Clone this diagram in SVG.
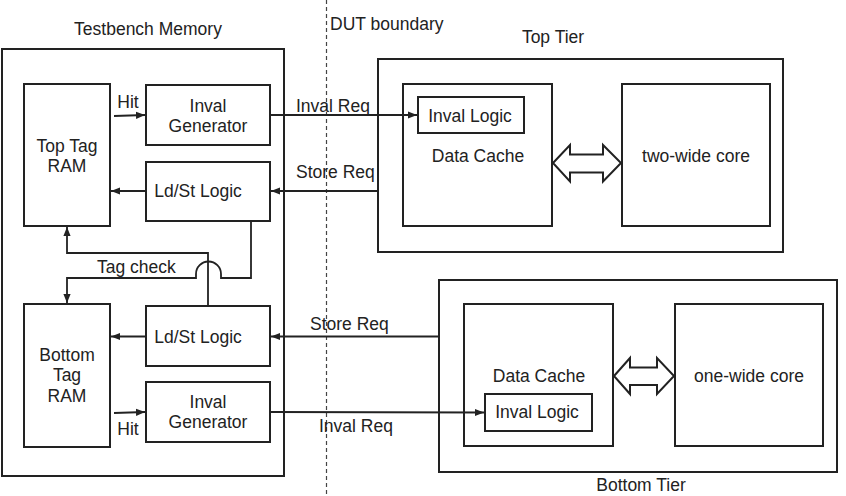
<svg xmlns="http://www.w3.org/2000/svg" width="846" height="496" viewBox="0 0 846 496">
<defs>
<style>
.box{fill:none;stroke:#222;stroke-width:2}
.ln{fill:none;stroke:#222;stroke-width:1.8}
.dash{fill:none;stroke:#444;stroke-width:1.2;stroke-dasharray:4 3}
text{font-family:"Liberation Sans",Arial,sans-serif;font-size:17.5px;fill:#222}
.c{text-anchor:middle}
.dbl{fill:#fff;stroke:#222;stroke-width:2;stroke-linejoin:miter}
</style>
<marker id="ah" viewBox="0 0 10 10" refX="10" refY="5" markerWidth="9" markerHeight="9" markerUnits="userSpaceOnUse" orient="auto">
<path d="M0,1 L10,5 L0,9 Z" fill="#222"/>
</marker>
</defs>
<rect width="846" height="496" fill="#fff"/>
<line class="dash" x1="326.5" y1="0" x2="326.5" y2="496"/>
<text x="148" y="35" class="c">Testbench Memory</text>
<text x="330" y="30">DUT boundary</text>
<text x="553" y="43" class="c">Top Tier</text>
<text x="641" y="491" class="c">Bottom Tier</text>
<g id="testbench"><rect class="box" x="2" y="49" width="282" height="427"/></g>
<g id="top-tag-ram"><rect class="box" x="24" y="84" width="86" height="142"/><text x="67" y="152" class="c">Top Tag</text><text x="67" y="172" class="c">RAM</text></g>
<g id="top-inval-gen"><rect class="box" x="146" y="85" width="124" height="60"/><text x="208" y="112" class="c">Inval</text><text x="208" y="132" class="c">Generator</text></g>
<g id="top-ldst"><rect class="box" x="146" y="162" width="124" height="59"/><text x="198" y="197" class="c">Ld/St Logic</text></g>
<g id="bottom-tag-ram"><rect class="box" x="24" y="304" width="86" height="143"/><text x="67" y="361" class="c">Bottom</text><text x="67" y="381" class="c">Tag</text><text x="67" y="402" class="c">RAM</text></g>
<g id="bottom-ldst"><rect class="box" x="146" y="306" width="124" height="60"/><text x="198" y="343" class="c">Ld/St Logic</text></g>
<g id="bottom-inval-gen"><rect class="box" x="146" y="382" width="124" height="60"/><text x="208" y="408" class="c">Inval</text><text x="208" y="428" class="c">Generator</text></g>
<g id="top-tier"><rect class="box" x="378" y="59" width="405" height="193"/></g>
<g id="top-data-cache"><rect class="box" x="403" y="84" width="149" height="142"/><text x="478" y="162" class="c">Data Cache</text></g>
<g id="top-inval-logic"><rect class="box" x="418" y="97" width="106" height="36"/><text x="470" y="122" class="c">Inval Logic</text></g>
<g id="two-wide-core"><rect class="box" x="622" y="84" width="148" height="142"/><text x="696" y="162" class="c">two-wide core</text></g>
<g id="bottom-tier"><rect class="box" x="439" y="280" width="398" height="192"/></g>
<g id="bottom-data-cache"><rect class="box" x="464" y="304" width="149" height="142"/><text x="539" y="382" class="c">Data Cache</text></g>
<g id="bottom-inval-logic"><rect class="box" x="485" y="394" width="107" height="37"/><text x="537" y="418" class="c">Inval Logic</text></g>
<g id="one-wide-core"><rect class="box" x="675" y="304" width="148" height="142"/><text x="749" y="382" class="c">one-wide core</text></g>
<g id="connectors">
<line class="ln" x1="114" y1="116" x2="145" y2="115" marker-end="url(#ah)"/>
<text x="128" y="108" class="c">Hit</text>
<line class="ln" x1="270" y1="115" x2="417" y2="115" marker-end="url(#ah)"/>
<text x="296" y="112">Inval Req</text>
<line class="ln" x1="379" y1="191" x2="271" y2="191" marker-end="url(#ah)"/>
<text x="296" y="178">Store Req</text>
<line class="ln" x1="146" y1="191" x2="111" y2="191" marker-end="url(#ah)"/>
<path class="ln" d="M208,306 V253 H67 V227" marker-end="url(#ah)"/>
<path class="ln" d="M251,221 V278 H221 V274 A12.5,12.5 0 0 0 196,274 V278 H67 V303" marker-end="url(#ah)"/>
<text x="97" y="273">Tag check</text>
<line class="ln" x1="439" y1="336.5" x2="271" y2="336.5" marker-end="url(#ah)"/>
<text x="310" y="330">Store Req</text>
<line class="ln" x1="146" y1="336.5" x2="111" y2="336.5" marker-end="url(#ah)"/>
<line class="ln" x1="114" y1="413" x2="145" y2="412" marker-end="url(#ah)"/>
<text x="128" y="435" class="c">Hit</text>
<line class="ln" x1="270" y1="412" x2="484" y2="412.5" marker-end="url(#ah)"/>
<text x="319" y="432">Inval Req</text>
<path class="dbl" d="M553,163 L570,145 L570,154.5 L603,154.5 L603,145 L621,163 L603,181.5 L603,172.5 L570,172.5 L570,181.5 Z"/>
<path class="dbl" d="M614,376 L630,358 L630,367.5 L657,367.5 L657,358 L674,376 L657,394 L657,385 L630,385 L630,394 Z"/>
</g>
</svg>
